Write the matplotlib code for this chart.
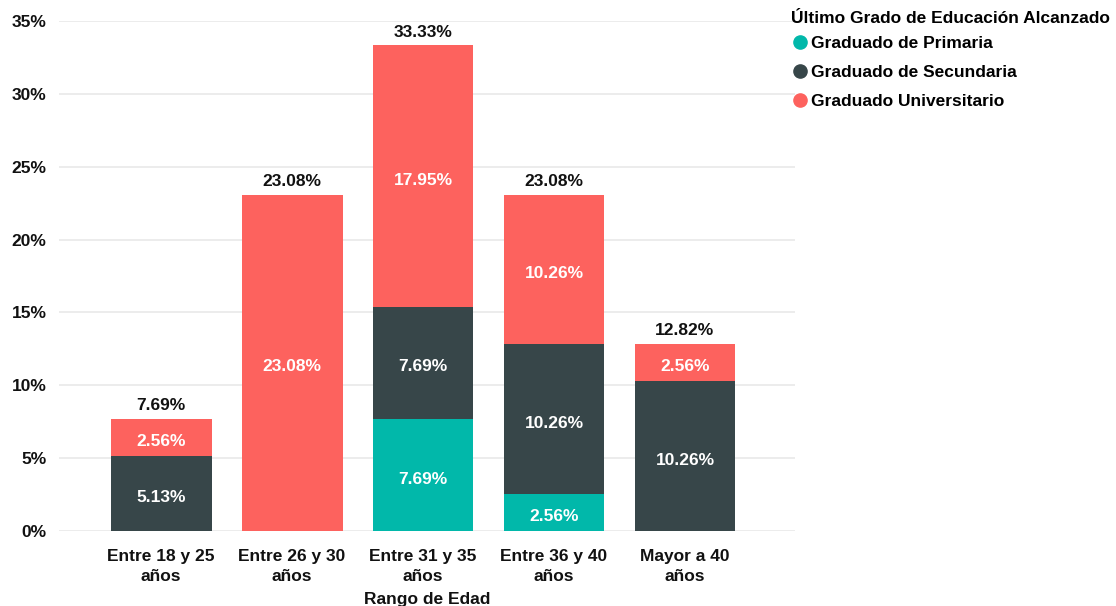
import matplotlib
matplotlib.use("Agg")
import matplotlib.pyplot as plt
from matplotlib.lines import Line2D
import numpy as np

plt.rcParams['font.family'] = ['Liberation Sans', 'DejaVu Sans']
plt.rcParams['font.weight'] = 'bold'

categories = ["Entre 18 y 25\naños", "Entre 26 y 30\naños", "Entre 31 y 35\naños",
              "Entre 36 y 40\naños", "Mayor a 40\naños"]
series_names = ["Graduado de Primaria", "Graduado de Secundaria", "Graduado Universitario"]
primaria = [0, 0, 7.69, 2.56, 0]
secundaria = [5.13, 0, 7.69, 10.26, 10.26]
universitario = [2.56, 23.08, 17.95, 10.26, 2.56]
totals = [7.69, 23.08, 33.33, 23.08, 12.82]
yticks = [0, 5, 10, 15, 20, 25, 30, 35]

colors = ["#01B8AA", "#374649", "#FD625E"]
FS = 12.5

W, H = 1116, 606
fig = plt.figure(figsize=(W / 100, H / 100), dpi=100)
ax = fig.add_axes([59 / W, 75 / H, (795 - 59) / W, (531 - 21) / H])

x = np.arange(len(categories))
width = 0.77
bottom = np.zeros(len(categories))
for vals, col in zip([primaria, secundaria, universitario], colors):
    vals = np.array(vals, dtype=float)
    ax.bar(x, vals, width, bottom=bottom, color=col, zorder=2)
    for xi, v, b in zip(x, vals, bottom):
        if v > 0:
            ax.text(xi, b + v / 2 - 0.28, f"{v:.2f}%", ha='center', va='center',
                    color='white', fontsize=FS, fontweight='bold', zorder=3)
    bottom += vals

for xi, t in zip(x, totals):
    ax.text(xi, t + 0.4, f"{t:.2f}%", ha='center', va='bottom',
            color='#111111', fontsize=FS, fontweight='bold', zorder=3)

ax.set_xlim(-0.78, 4.84)
ax.set_ylim(0, 35)
ax.set_yticks(yticks)
ax.set_yticklabels([f"{v}%" for v in yticks])
ax.set_xticks(x)
ax.set_xticklabels(categories, linespacing=1.42)
ax.tick_params(axis='both', length=0, labelsize=FS, colors='#111111')
ax.tick_params(axis='y', pad=9)
ax.tick_params(axis='x', pad=13)
ax.grid(axis='y', color='#eaeaea', linewidth=1.3, zorder=0)
for s in ax.spines.values():
    s.set_visible(False)
ax.set_xlabel("Rango de Edad", fontsize=FS, fontweight='bold', color='#111111', labelpad=6)

handles = [Line2D([0], [0], marker='o', linestyle='none', markersize=9.5,
                  markerfacecolor=c, markeredgecolor=c) for c in colors]
leg = fig.legend(handles, series_names, loc='upper left',
                 bbox_to_anchor=(788 / W, 1 - 8 / H), frameon=False,
                 title="Último Grado de Educación Alcanzado",
                 prop={'size': FS, 'weight': 'bold'},
                 title_fontproperties={'size': FS, 'weight': 'bold'},
                 handletextpad=0.15, handlelength=1.0, labelspacing=0.8,
                 borderaxespad=0, borderpad=0.2)
leg._legend_box.align = "left"
leg._legend_box.sep = 7

fig.savefig("out.png", dpi=100)
